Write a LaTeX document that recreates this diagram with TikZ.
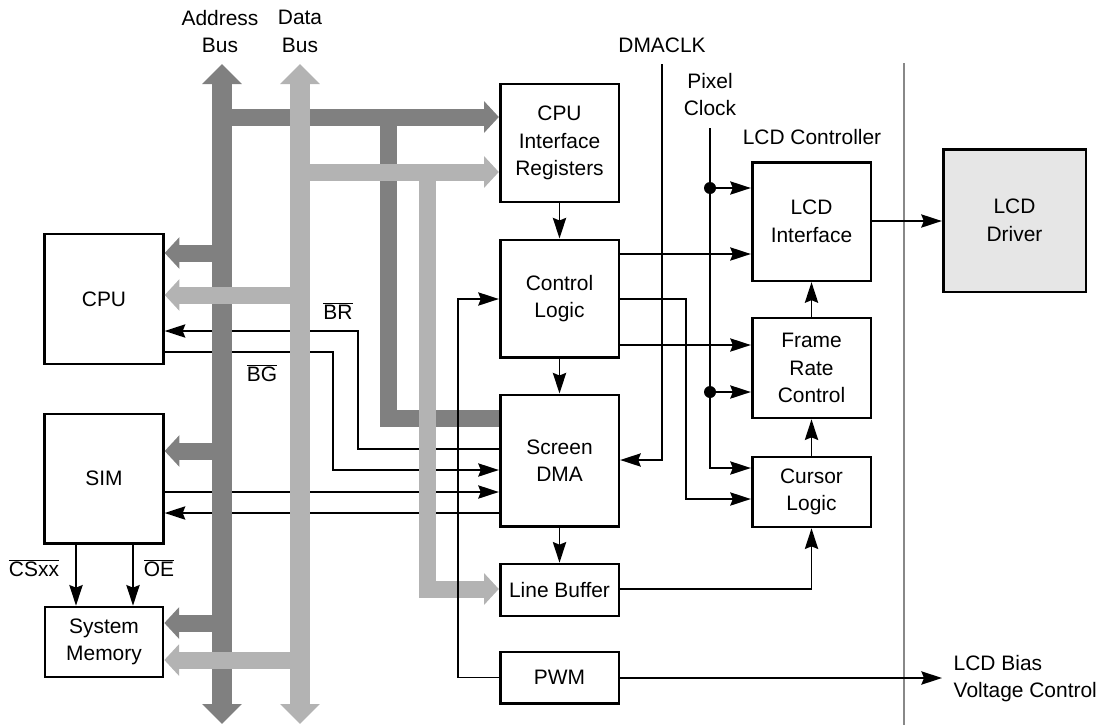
\documentclass[tikz,border=0pt]{standalone}
\usepackage{fontspec}
\setmainfont{Liberation Sans}
\usetikzlibrary{arrows.meta}
\definecolor{abus}{HTML}{808080}
\definecolor{dbus}{HTML}{B3B3B3}
\definecolor{drvfill}{HTML}{E6E6E6}
\definecolor{divgray}{HTML}{888888}
\begin{document}
\begin{tikzpicture}[x=0.75pt,y=-0.75pt,
  every node/.style={font=\fontsize{15.7}{20.6}\selectfont,align=center},
  box/.style={draw,line width=2pt,inner sep=0pt},
  ln/.style={line width=1.1pt},
  arr/.style={ln,-{Stealth[length=15.5pt,width=10pt,inset=2pt]}},
  bigbus/.style={line width=15pt},
  subbus/.style={line width=12.75pt},
  bighead/.style={{Triangle[length=15pt,width=29pt]}-{Triangle[length=15pt,width=29pt]}},
  subhead/.style={-{Triangle[length=11pt,width=23pt]}},
  dot/.style={circle,fill,inner sep=0pt,minimum size=9pt}
]
\useasboundingbox (0,0) rectangle (1105,725);

% boxes
\node[box,minimum width=89pt,minimum height=88.5pt] (cpuif) at (559.5,143) {CPU\\Interface\\Registers};
\node[box,minimum width=89pt,minimum height=88pt] (ctrl) at (559.5,298.5) {Control\\Logic};
\node[box,minimum width=89pt,minimum height=98.5pt] (dma) at (559.5,460.5) {Screen\\DMA};
\node[box,minimum width=89pt,minimum height=39pt] (lbuf) at (559.5,590) {Line Buffer};
\node[box,minimum width=89pt,minimum height=38.5pt] (pwm) at (559.5,677.5) {PWM};
\node[box,minimum width=89pt,minimum height=89pt] (lcdif) at (811.5,221.5) {LCD\\Interface};
\node[box,minimum width=89pt,minimum height=75pt] (frc) at (811.5,368) {Frame\\Rate\\Control};
\node[box,minimum width=89pt,minimum height=52.5pt] (cursor) at (811.5,492) {Cursor\\Logic};
\node[box,fill=drvfill,minimum width=107pt,minimum height=107pt] (driver) at (1014.5,220.5) {LCD\\Driver};
\node[box,minimum width=89pt,minimum height=97.5pt] (cpu) at (104,299) {CPU};
\node[box,minimum width=89pt,minimum height=97pt] (sim) at (104,478.5) {SIM};
\node[box,minimum width=88.5pt,minimum height=52.5pt] (mem) at (104,642) {System\\Memory};

% divider
\draw[color=divgray,line width=2pt] (904,63) -- (904,725);

% labels
\node (laddr) at (220,31.5) {Address\\Bus};
\node (ldata) at (300,31.5) {Data\\Bus};
\node (ldmaclk) at (662,45) {DMACLK};
\node (lpclk) at (710,94.5) {Pixel\\Clock};
\node (lctrl) at (812,137) {LCD Controller};
\node[anchor=west,align=left] (lbias) at (949,678.5) {LCD Bias\\Voltage Control};
\node (lbr) at (338,311) {$\overline{\mbox{BR}}$};
\node (lbg) at (262,373) {$\overline{\mbox{BG}}$};
\node (lcs) at (34,568) {$\overline{\mbox{CSxx}}$};
\node (loe) at (159,568) {$\overline{\mbox{OE}}$};

% thin lines under the buses
\draw[arr] (dma.west |- 0,449) -- (358,449) -- (358,331) -- (cpu.east |- 0,331);
\draw[arr] (cpu.east |- 0,352) -- (333,352) -- (333,470) -- (dma.west |- 0,470);
\draw[arr] (sim.east |- 0,492) -- (dma.west |- 0,492);
\draw[arr] (dma.west |- 0,513) -- (sim.east |- 0,513);

% address bus
\coordinate (atop) at (222,64);
\coordinate (abot) at (222,724);
\draw[color=abus,bigbus,bighead] (abot) -- (atop);
\draw[color=abus,subbus,subhead] (222,117) -- (cpuif.west |- 0,117);
\draw[color=abus,subbus,line join=miter] (388,117) -- (388,418) -- (dma.west |- 0,418);
\draw[color=abus,subbus,subhead] (222,253) -- (cpu.east |- 0,253);
\draw[color=abus,subbus,subhead] (222,451) -- (sim.east |- 0,451);
\draw[color=abus,subbus,subhead] (222,623) -- (mem.east |- 0,623);

% data bus
\coordinate (dtop) at (300,64);
\coordinate (dbot) at (300,724);
\draw[color=dbus,bigbus,bighead] (dbot) -- (dtop);
\draw[color=dbus,subbus,subhead] (300,172) -- (cpuif.west |- 0,172);
\draw[color=dbus,subbus,subhead,line join=miter] (427,172) -- (427,589) -- (lbuf.west |- 0,589);
\draw[color=dbus,subbus,subhead] (300,295) -- (cpu.east |- 0,295);
\draw[color=dbus,subbus,subhead] (300,660) -- (mem.east |- 0,660);

% thin lines over the buses
\draw[arr] (pwm.west) -- (pwm.west -| 458,0) -- (458,299) -- (ctrl.west |- 0,299);
\draw[arr] (cpuif.south) -- (ctrl.north);
\draw[arr] (ctrl.south) -- (dma.north);
\draw[arr] (dma.south) -- (lbuf.north);
\draw[arr] (ctrl.east |- 0,254) -- (lcdif.west |- 0,254);
\draw[arr] (ctrl.east |- 0,299) -- (686,299) -- (686,499) -- (cursor.west |- 0,499);
\draw[arr] (ctrl.east |- 0,345) -- (frc.west |- 0,345);
\coordinate (dmaclk) at (662,64);
\draw[arr] (dmaclk) -- (662,460) -- (dma.east |- 0,460);
\coordinate (pclk) at (710,128);
\draw[arr] (pclk) -- (710,468) -- (cursor.west |- 0,468);
\node[dot] (d1) at (710,188) {};
\node[dot] (d2) at (710,392) {};
\draw[arr] (d1) -- (lcdif.west |- d1);
\draw[arr] (d2) -- (frc.west |- d2);
\draw[arr] (lcdif.east |- 0,221) -- (driver.west |- 0,221);
\draw[arr] (frc.north) -- (lcdif.south);
\draw[arr] (cursor.north) -- (frc.south);
\draw[arr] (lbuf.east |- 0,589) -- (811.5,589) -- (cursor.south);
\coordinate (bias) at (942,678);
\draw[arr] (pwm.east |- bias) -- (bias);
\draw[arr] (sim.south -| 76,0) -- (mem.north -| 76,0);
\draw[arr] (sim.south -| 133,0) -- (mem.north -| 133,0);
\end{tikzpicture}
\end{document}
